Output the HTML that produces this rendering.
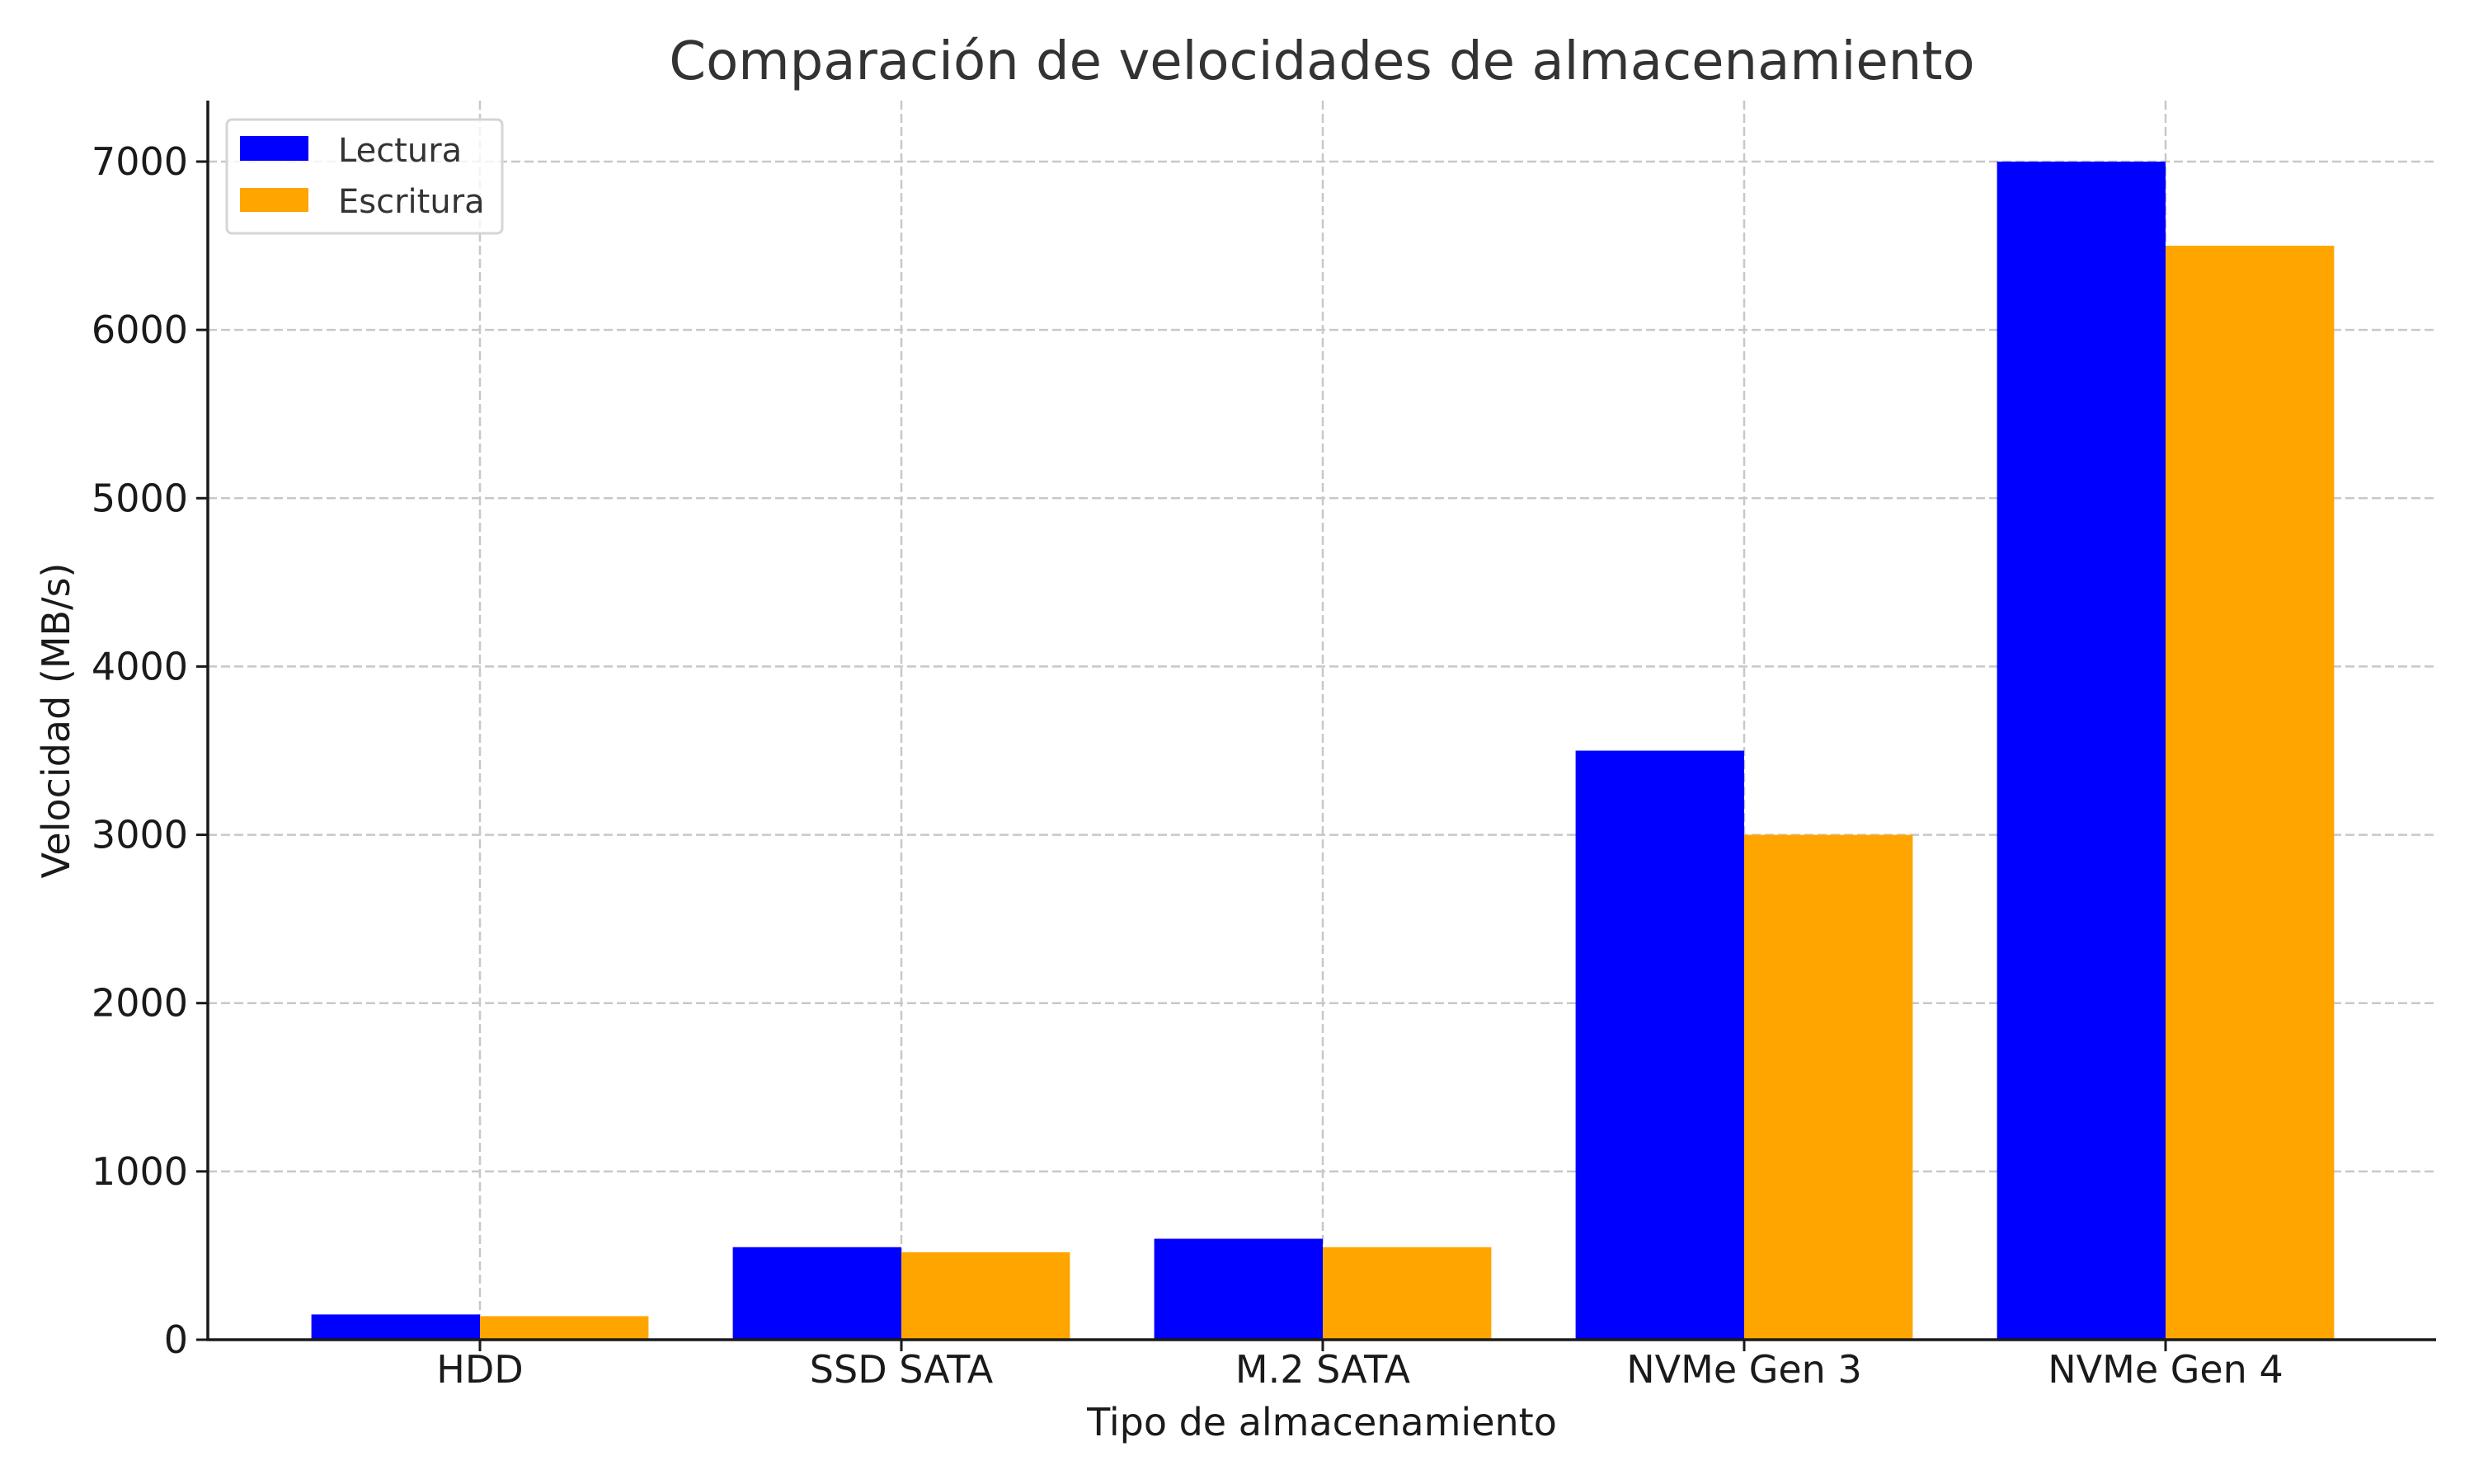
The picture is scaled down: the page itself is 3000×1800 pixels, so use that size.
<!DOCTYPE html>
<html><head><meta charset="utf-8"><style>
html,body{margin:0;padding:0;background:#fff;}
svg{display:block;font-family:"DejaVu Sans","Liberation Sans",sans-serif;}
</style></head><body>
<svg id="chart" width="3000" height="1800" viewBox="0 0 3000 1800" xmlns="http://www.w3.org/2000/svg">
<rect width="3000" height="1800" fill="#fff"/>
<text x="1603" y="96" text-anchor="middle" font-size="64" fill="#333">Comparación de velocidades de almacenamiento</text>
<g id="grid"></g>
<g id="bars"></g>
<g id="axes"></g>
<text x="1603" y="1741" text-anchor="middle" font-size="46" fill="#1a1a1a">Tipo de almacenamiento</text>
<text transform="translate(84,874) rotate(-90)" text-anchor="middle" font-size="46" fill="#1a1a1a">Velocidad (MB/s)</text>
<g>
<rect x="275" y="145" width="334" height="138" rx="6" fill="#fff" fill-opacity="0.8" stroke="#d5d5d5" stroke-width="3"/>
<rect x="291" y="165" width="83" height="30" fill="#0000ff"/>
<text x="410" y="196" font-size="40" fill="#333">Lectura</text>
<rect x="291" y="228" width="83" height="29" fill="#ffa500"/>
<text x="410" y="258" font-size="40" fill="#333">Escritura</text>
</g>
</svg>
<script>
const categories = ["HDD", "SSD SATA", "M.2 SATA", "NVMe Gen 3", "NVMe Gen 4"];
const lectura = [150, 550, 600, 3500, 7000];
const escritura = [140, 520, 550, 3000, 6500];
const yTicks = [0, 1000, 2000, 3000, 4000, 5000, 6000, 7000];

const NS = "http://www.w3.org/2000/svg";
const plot = {left: 252, right: 2954, top: 122, bottom: 1625};
const yMax = 7000, yMaxPx = 196;
function y(v){ return plot.bottom - v * (plot.bottom - yMaxPx) / yMax; }
const xStart = 582, xStep = 511;
function x(i){ return xStart + i * xStep; }
const barW = 0.4 * xStep;

function mk(tag, attrs, parent){
  const el = document.createElementNS(NS, tag);
  for (const k in attrs) el.setAttribute(k, attrs[k]);
  parent.appendChild(el);
  return el;
}
const grid = document.getElementById("grid");
const bars = document.getElementById("bars");
const axes = document.getElementById("axes");

yTicks.forEach(t => {
  const g = mk("line", {x1: plot.left, x2: plot.right, y1: y(t), y2: y(t), stroke: "#c8c8c8", "stroke-width": 2.5, "stroke-dasharray": "11 5"}, grid);
  
  
  const tk = mk("line", {x1: plot.left - 14, x2: plot.left, y1: y(t), y2: y(t), stroke: "#1a1a1a", "stroke-width": 3}, axes);
  
  
  const lb = mk("text", {x: plot.left - 24, y: y(t) + 16, "text-anchor": "end", "font-size": 46, fill: "#1a1a1a"}, axes);
  lb.textContent = t;
  
  
});
categories.forEach((c, i) => {
  const g = mk("line", {x1: x(i), x2: x(i), y1: plot.top, y2: plot.bottom, stroke: "#c8c8c8", "stroke-width": 2.5, "stroke-dasharray": "11 5"}, grid);
  
  
  const b1 = mk("rect", {x: x(i) - barW, y: y(lectura[i]), width: barW, height: plot.bottom - y(lectura[i]), fill: "#0000ff"}, bars);
  
  
  const b2 = mk("rect", {x: x(i), y: y(escritura[i]), width: barW, height: plot.bottom - y(escritura[i]), fill: "#ffa500"}, bars);
  
  
  const tk = mk("line", {x1: x(i), x2: x(i), y1: plot.bottom, y2: plot.bottom + 14, stroke: "#1a1a1a", "stroke-width": 3}, axes);
  
  
  const lb = mk("text", {x: x(i), y: 1677, "text-anchor": "middle", "font-size": 46, fill: "#1a1a1a"}, axes);
  lb.textContent = c;
  
  
});
const ax1 = mk("line", {x1: plot.left, x2: plot.left, y1: plot.top, y2: plot.bottom + 1.5, stroke: "#1a1a1a", "stroke-width": 3.5}, axes);


const ax2 = mk("line", {x1: plot.left - 1.5, x2: plot.right, y1: plot.bottom, y2: plot.bottom, stroke: "#1a1a1a", "stroke-width": 3.5}, axes);


</script>
</body></html>
